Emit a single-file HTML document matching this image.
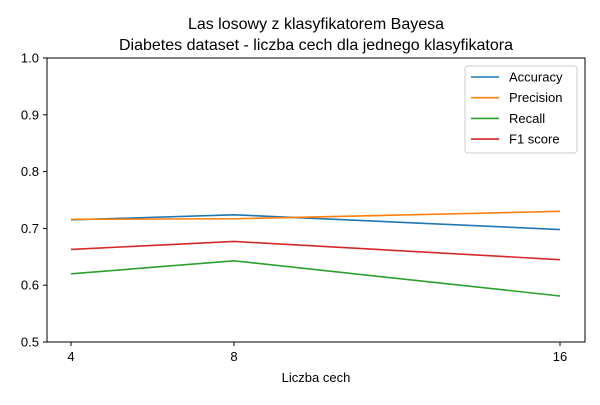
<!DOCTYPE html>
<html><head><meta charset="utf-8"><style>
body{margin:0;background:#fff;}
svg text{font-family:"Liberation Sans","DejaVu Sans",sans-serif;fill:#000;}
</style></head><body>
<svg id="chart" width="600" height="400" xmlns="http://www.w3.org/2000/svg">
<rect width="600" height="400" fill="#fff"/>
<text x="316" y="29" font-size="16" text-anchor="middle">Las losowy z klasyfikatorem Bayesa</text>
<text x="316" y="50" font-size="16" text-anchor="middle">Diabetes dataset - liczba cech dla jednego klasyfikatora</text>
<g id="axes"></g>
<g id="series"></g>
<rect x="47" y="58" width="538" height="284" fill="none" stroke="#000" stroke-width="1"/>
<text x="316" y="382" font-size="13" text-anchor="middle">Liczba cech</text>
<g id="legend"></g>
</svg>
<script>
const categories=[4,8,16];
const accuracy=[0.715,0.724,0.698];
const precision=[0.716,0.717,0.730];
const recall=[0.620,0.643,0.581];
const f1=[0.663,0.677,0.645];
const seriesNames=["Accuracy","Precision","Recall","F1 score"];
const yTicks=[0.5,0.6,0.7,0.8,0.9,1.0];
const yTickLabels=["0.5","0.6","0.7","0.8","0.9","1.0"];
const xTickLabels=["4","8","16"];

const colors=["#1f77b4","#ff7f0e","#2ca02c","#d62728"];
const NS="http://www.w3.org/2000/svg";
const x=v=>71+(v-4)*(560-71)/12;
const y=v=>342-(v-0.5)*568;
function mk(tag,attrs,parent){const e=document.createElementNS(NS,tag);for(const k in attrs)e.setAttribute(k,attrs[k]);parent.appendChild(e);return e;}
const axes=document.getElementById('axes');
yTicks.forEach((t,i)=>{
  const l=mk('line',{x1:43,x2:47,y1:y(t),y2:y(t),stroke:'#000'},axes);
  
  
  const tx=mk('text',{x:39,y:y(t)+4.5,'font-size':13,'text-anchor':'end'},axes);
  tx.textContent=yTickLabels[i];
  
  
});
categories.forEach((c,i)=>{
  const l=mk('line',{x1:x(c),x2:x(c),y1:342,y2:346,stroke:'#000'},axes);
  
  
  const tx=mk('text',{x:x(c),y:361,'font-size':13,'text-anchor':'middle'},axes);
  tx.textContent=xTickLabels[i];
  
  
});
const data=[accuracy,precision,recall,f1];
const sg=document.getElementById('series');
data.forEach((vals,s)=>{
  const p=mk('polyline',{points:vals.map((v,i)=>x(categories[i])+','+y(v)).join(' '),fill:'none',stroke:colors[s],'stroke-width':1.6},sg);
  
  
});
const lg=document.getElementById('legend');
const box=mk('rect',{x:465,y:66,width:112,height:87,rx:3,fill:'#fff','fill-opacity':0.8,stroke:'#ccc'},lg);


seriesNames.forEach((n,i)=>{
  const yy=77+i*20.7;
  const l=mk('line',{x1:471,x2:499,y1:yy,y2:yy,stroke:colors[i],'stroke-width':1.6},lg);
  
  
  const t=mk('text',{x:509,y:yy+4.5,'font-size':13},lg);
  t.textContent=n;
  
  
});
</script>
</body></html>
